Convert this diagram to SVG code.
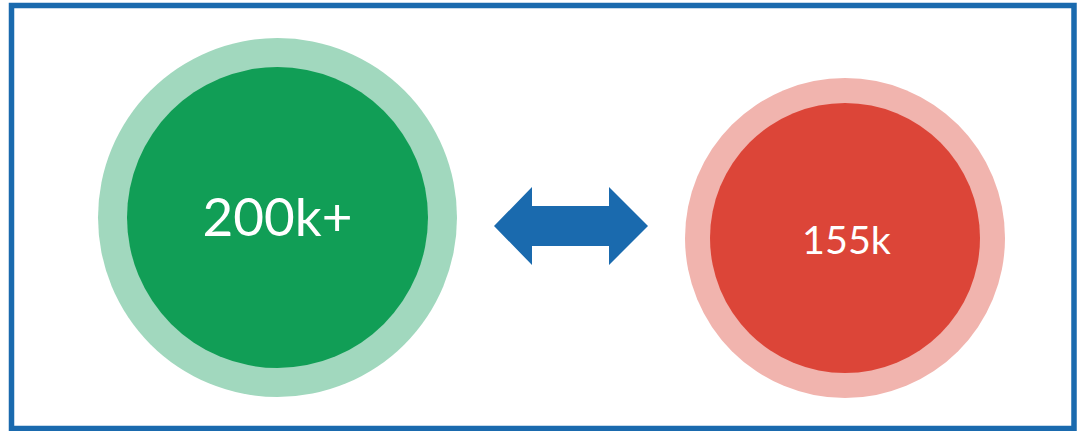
<svg xmlns="http://www.w3.org/2000/svg" width="1079" height="431" viewBox="0 0 1079 431">
<style>
.lbl{font-family:Lato,"Noto Sans",sans-serif;fill:#ffffff;text-anchor:middle}
</style>
<rect x="0" y="0" width="1079" height="431" fill="#ffffff"/>
<rect x="11.5" y="5.5" width="1062.5" height="423" fill="none" stroke="#1a6aae" stroke-width="5.5"/>
<g id="green">
<circle cx="277.5" cy="217.5" r="179.5" fill="#a1d8be"/>
<circle cx="277.5" cy="217.5" r="150.5" fill="#119e56"/>
<text class="lbl" x="277.5" y="236" font-size="53">200k+</text>
</g>
<g id="red">
<circle cx="845" cy="238" r="160" fill="#f1b4ae"/>
<circle cx="845" cy="238" r="135" fill="#dc4538"/>
<text class="lbl" x="846.5" y="253.5" font-size="39.5">155k</text>
</g>
<g id="connectors">
<polygon points="494,226 532,187 532,206 609,206 609,187 648,226 609,265 609,246 532,246 532,265" fill="#1a6aae"/>
</g>
</svg>
